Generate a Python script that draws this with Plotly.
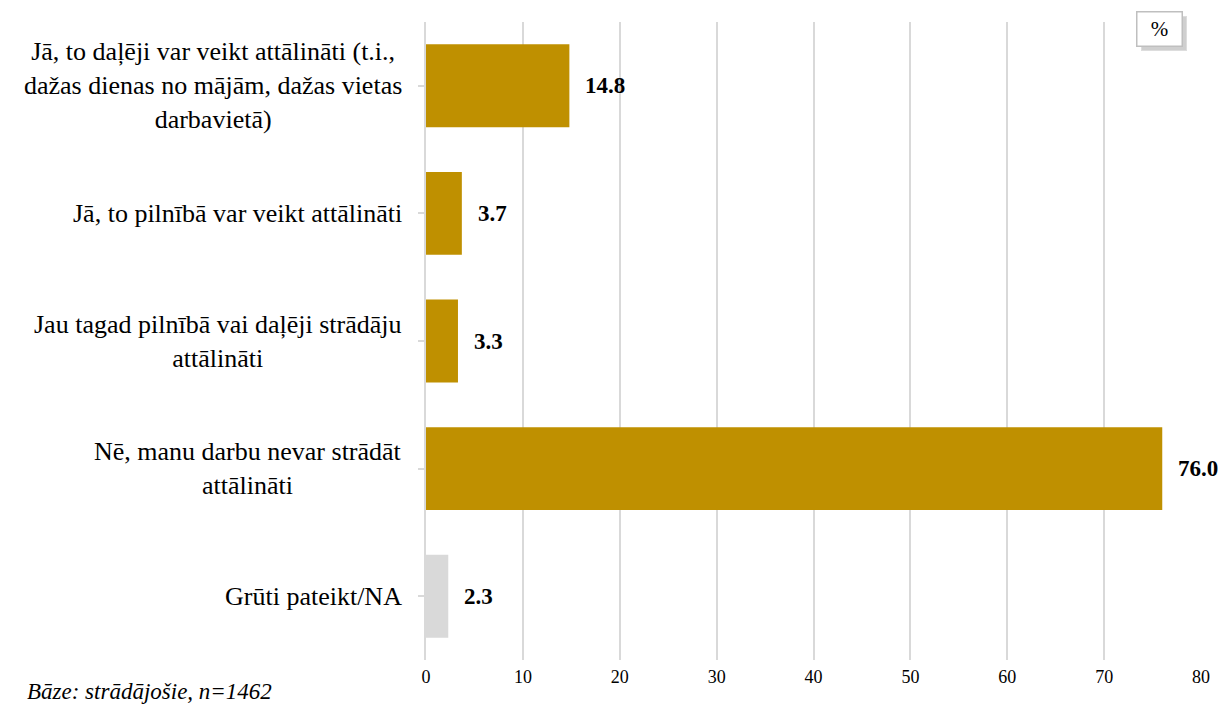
import plotly.graph_objects as go

categories = [
    "Jā, to daļēji var veikt attālināti (t.i.,<br>dažas dienas no mājām, dažas vietas<br>darbavietā)",
    "Jā, to pilnībā var veikt attālināti",
    "Jau tagad pilnībā vai daļēji strādāju<br>attālināti",
    "Nē, manu darbu nevar strādāt<br>attālināti",
    "Grūti pateikt/NA",
]
values = [14.8, 3.7, 3.3, 76.0, 2.3]
bar_colors = ["#BF9000", "#BF9000", "#BF9000", "#BF9000", "#D9D9D9"]
x_ticks = [0, 10, 20, 30, 40, 50, 60, 70, 80]
unit_label = "%"
base_note = "<i>Bāze: strādājošie, n=1462</i>"

FONT = "Liberation Serif, Times New Roman, serif"

fig = go.Figure()
fig.add_trace(go.Bar(
    x=values,
    y=list(range(len(categories))),
    orientation="h",
    marker=dict(color=bar_colors, line=dict(width=0)),
    hoverinfo="skip",
))

annotations = []
for i, (cat, v) in enumerate(zip(categories, values)):
    annotations.append(dict(
        x=0, xref="paper", y=i, yref="y",
        text=cat, showarrow=False, xanchor="right", align="center",
        xshift=-22, font=dict(family=FONT, size=26, color="#000000"),
    ))
    annotations.append(dict(
        x=v, xref="x", y=i, yref="y",
        text=f"<b>{v:.1f}</b>", showarrow=False, xanchor="left",
        xshift=14, font=dict(family=FONT, size=23, color="#000000"),
    ))

annotations.append(dict(
    x=0, xref="paper", y=0, yref="paper",
    xanchor="left", yanchor="top", yshift=-17, xshift=-401,
    text=base_note, showarrow=False,
    font=dict(family=FONT, size=23, color="#000000"),
))

# shadow of the unit box
annotations.append(dict(
    x=1, xref="paper", y=1, yref="paper",
    xanchor="right", yanchor="bottom", xshift=-14, yshift=-29,
    text=" ", showarrow=False, width=42, height=31, borderpad=1,
    bgcolor="#CFCFCF", borderwidth=1, bordercolor="#DDDDDD",
))
annotations.append(dict(
    x=1, xref="paper", y=1, yref="paper",
    xanchor="right", yanchor="bottom", xshift=-18, yshift=-25,
    text=unit_label, showarrow=False, width=42, height=31, borderpad=1,
    bgcolor="#FFFFFF", bordercolor="#BFBFBF", borderwidth=1.5,
    font=dict(family=FONT, size=21, color="#000000"),
))

fig.update_layout(
    width=1226, height=704,
    margin=dict(l=426, r=25, t=22, b=44),
    paper_bgcolor="#FFFFFF", plot_bgcolor="#FFFFFF",
    bargap=0.35,
    showlegend=False,
    annotations=annotations,
    xaxis=dict(
        range=[0, 80], tickvals=x_ticks, ticktext=[str(t) for t in x_ticks],
        showgrid=True, gridcolor="#D9D9D9", gridwidth=2,
        zeroline=False, showline=False, ticks="",
        ticklabelstandoff=4,
        tickfont=dict(family=FONT, size=18, color="#000000"),
    ),
    yaxis=dict(
        autorange="reversed", tickvals=list(range(len(categories))),
        showticklabels=False, showgrid=False, zeroline=False,
        showline=True, linecolor="#D9D9D9", linewidth=2,
        ticks="outside", tickson="boundaries", ticklen=6, tickcolor="#D9D9D9", tickwidth=2,
    ),
)

fig.write_html("out.html", config={"displayModeBar": False},
               post_script="document.body.style.margin='0';")
